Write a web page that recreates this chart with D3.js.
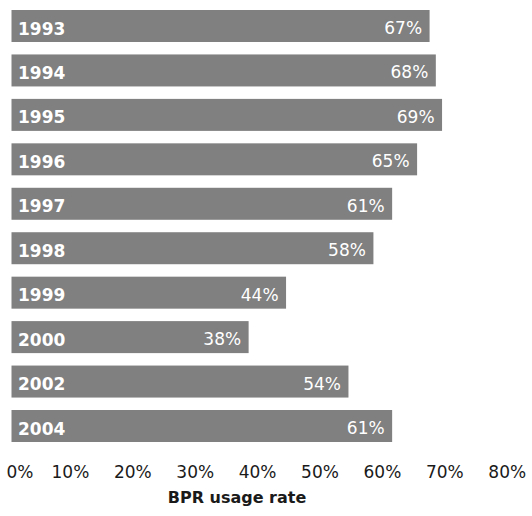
<!DOCTYPE html>
<html>
<head>
<meta charset="utf-8">
<script src="https://cdn.jsdelivr.net/npm/d3@7"></script>
<style>
  body { margin: 0; background: #fff; }
  svg { display: block; font-family: "DejaVu Sans", sans-serif; }
</style>
</head>
<body>
<svg id="chart" width="532" height="516"></svg>
<script>
// data
const years = ['1993', '1994', '1995', '1996', '1997', '1998', '1999', '2000', '2002', '2004'];
const usage = [67, 68, 69, 65, 61, 58, 44, 38, 54, 61];
const tickValues = [0, 10, 20, 30, 40, 50, 60, 70, 80];

const svg = d3.select('#chart');

const x = d3.scaleLinear().domain([0, 80]).range([11.5, 510.7]);
const y = d3.scaleBand().domain(years).range([10, 442]).paddingInner(0.28).paddingOuter(0);

const rows = svg.append('g')
    .selectAll('g')
    .data(years)
    .enter().append('g');

rows.append('rect')
    .attr('x', x(0))
    .attr('y', d => y(d))
    .attr('width', (d, i) => x(usage[i]) - x(0))
    .attr('height', y.bandwidth())
    .attr('fill', '#808080');

// year labels, bold, inside the left end
rows.append('text')
    .attr('x', x(0) + 6.5)
    .attr('y', d => y(d) + y.bandwidth() / 2 + 8.5)
    .attr('fill', '#fff')
    .attr('font-size', 17)
    .attr('font-weight', 'bold')
    .text(d => d);

// value labels at the right end
rows.append('text')
    .attr('x', (d, i) => x(usage[i]) - 7.5)
    .attr('y', d => y(d) + y.bandwidth() / 2 + 8)
    .attr('text-anchor', 'end')
    .attr('fill', '#fff')
    .attr('font-size', 17)
    .text((d, i) => usage[i] + '%');

// x axis: labels only, no line or tick marks
const axis = svg.append('g')
    .attr('transform', 'translate(0,462)')
    .call(d3.axisBottom(x).tickValues(tickValues).tickFormat(d => d + '%').tickSize(0).tickPadding(0));
axis.select('.domain').remove();
axis.selectAll('text')
    .attr('font-family', '"DejaVu Sans", sans-serif')
    .attr('font-size', 17)
    .attr('fill', '#1a1a1a')
    .attr('dy', '0.95em')
    .attr('dx', d => d === 0 ? 8 : -4);

svg.append('text')
    .attr('x', 237)
    .attr('y', 503)
    .attr('text-anchor', 'middle')
    .attr('font-size', 16)
    .attr('font-weight', 'bold')
    .attr('fill', '#1a1a1a')
    .text('BPR usage rate');
</script>
</body>
</html>
